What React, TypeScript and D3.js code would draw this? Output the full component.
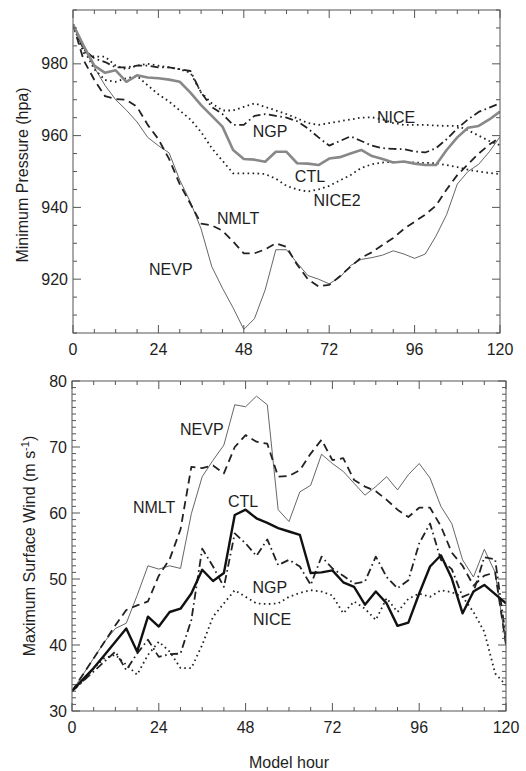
import React from "react";
import * as d3 from "d3";

// model hours (3-hourly output)
const hours = [0, 3, 6, 9, 12, 15, 18, 21, 24, 27, 30, 33, 36, 39, 42, 45, 48, 51, 54, 57, 60,
  63, 66, 69, 72, 75, 78, 81, 84, 87, 90, 93, 96, 99, 102, 105, 108, 111, 114, 117, 120];

// minimum pressure (hPa)
const presCTL = [991, 985, 979.5, 977.5, 978.2, 975, 976.8, 976.2, 976, 975.6, 975, 972, 968.5, 965.5, 962.5, 956, 953.5, 953.3, 952.7, 955.5, 955.5,
  952.3, 952.2, 951.8, 953.6, 954, 955, 956, 954.3, 953.5, 952.5, 952.8, 952.2, 951.8, 951.8, 956, 959.5, 962.2, 962.7, 964.5, 966.7];
const presNICE = [991, 983, 982, 982, 979.5, 978.5, 979.5, 980, 979.5, 979, 978.5, 977.5, 972, 969, 967, 967, 968, 969, 968, 967, 966,
  964.8, 963.5, 963, 963.5, 964, 964.5, 965, 965.1, 964.5, 963.5, 963, 963, 963, 962.8, 962.7, 962.7, 961.5, 960, 958.5, 957.3];
const presNICE2 = [991, 984, 978.5, 975.5, 975, 976, 976.6, 974, 971.5, 969.5, 967, 964.5, 961, 956.5, 953, 949.5, 949.5, 949.5, 949.3, 948, 946,
  945, 944.4, 945, 946, 947.5, 949, 951, 952, 952.5, 952.7, 952.7, 952.5, 952.4, 952.3, 951.8, 951.2, 950.5, 950, 949.6, 949.3];
const presNGP = [991, 984, 981.5, 980.5, 979, 979, 979.5, 979.5, 979, 979, 978.5, 978, 972, 968, 966, 963, 963, 965.5, 966, 965.5, 965,
  964, 962, 959.5, 957.2, 958.5, 959.8, 958.5, 957.2, 956.5, 956.3, 956.2, 955.6, 955.3, 956.5, 959, 962, 964.5, 966.6, 967.8, 969];
const presNMLT = [991, 981, 975.5, 971, 970.2, 970, 968, 963, 959, 953.5, 946.5, 941, 935.5, 935, 933.5, 930.5, 927.2, 927.2, 928.3, 930, 929,
  924, 920, 918, 918.4, 920.8, 923.5, 926, 927.5, 929.5, 931.5, 934, 936, 938, 940.5, 945, 949, 952, 955, 957.5, 959.5];
const presNEVP = [991, 984.5, 979, 974, 970, 967.1, 963.8, 959.5, 957.2, 955.2, 947.6, 941.5, 934, 923.5, 917.5, 912, 906, 909, 917, 928.2, 928.2,
  924.5, 921, 920, 918.7, 920.5, 923.8, 925.5, 926, 926.7, 927.9, 927, 925.8, 927, 932, 938, 946.5, 950, 952, 955.5, 959.7];

// maximum surface wind (m/s)
const windCTL = [33, 34.8, 36.5, 38.5, 40.5, 42.5, 39, 44.3, 42.8, 45, 45.5, 47.8, 51.4, 49.7, 50.9, 59.7, 60.5, 59.2, 58.5, 57.7, 57.2,
  56.7, 50.9, 51, 51.3, 49.5, 48.8, 46.1, 48.1, 46.3, 42.9, 43.4, 47.8, 51.9, 53.6, 50.1, 44.8, 48.1, 49.1, 47.7, 46.3];
const windNEVP = [33, 35.5, 38, 40.5, 42.5, 43.3, 47.5, 52, 51.5, 52, 51.6, 59.9, 65.5, 68, 70.3, 76.4, 76.1, 77.7, 76.4, 60.5, 58.7,
  63.2, 64.2, 68.9, 67.5, 66.3, 64.5, 62.7, 64, 65.5, 63.5, 65.8, 67.5, 65.3, 61, 58.4, 52.9, 50.3, 54.5, 51, 40];
const windNMLT = [33, 35.5, 38, 40.5, 43, 45.3, 46, 46.6, 50.5, 53, 57.5, 67, 66.8, 67.2, 66, 70, 71.8, 70.8, 70.5, 65.5, 65.6,
  66.5, 69, 71.1, 68, 68.3, 65, 64, 63.3, 62, 60.5, 59.4, 60.8, 60.8, 58, 54, 52, 49, 50.5, 51, 40];
const windNGP = [33, 34.5, 36, 37.5, 39, 36.2, 38.7, 40.8, 38.2, 38.6, 38.7, 43.8, 54.6, 51.9, 48.8, 56.9, 55.4, 53.5, 56, 52.1, 52.9,
  51.9, 49.1, 53.4, 51.6, 50.5, 49.3, 49.6, 53.4, 50.3, 48.6, 49.8, 55.4, 58.4, 52.9, 51.5, 47.3, 48, 53.3, 53, 41];
const windNICE = [33, 34.5, 36.5, 38, 38.5, 37, 35.5, 38.5, 40.5, 39, 36.5, 36.5, 40, 44.3, 46.3, 48.3, 47.3, 46.3, 46.2, 46.3, 47.3,
  47.9, 48.3, 48.1, 47.5, 44.8, 46.6, 45.5, 43.8, 47.1, 45, 47, 47.8, 47.3, 48.3, 48, 47.3, 45, 42, 35.7, 33.9];

const hourTicks = [0, 24, 48, 72, 96, 120];
const presTicks = [920, 940, 960, 980];
const windTicks = [30, 40, 50, 60, 70, 80];

// curve labels: [name, hour, value]
const presLabels: [string, number, number][] = [
  ["NICE", 90.8, 965.2], ["NGP", 55.4, 961.3], ["CTL", 66.6, 948.7],
  ["NICE2", 74.2, 942], ["NMLT", 46.4, 936.8], ["NEVP", 27.5, 922.6],
];
const windLabels: [string, number, number][] = [
  ["NEVP", 35.9, 72.7], ["NMLT", 22.7, 60.9], ["CTL", 47.3, 61.7],
  ["NGP", 54.7, 48.8], ["NICE", 55.3, 43.9],
];

const FONT = "'Liberation Sans', Arial, Helvetica, sans-serif";
const AXIS = "#555";
const TEXT = "#1e1e1e";

const DOT = "1.6 3.4";
const DASH = "8 5";
const DASHDOT = "8 3.5 1.6 3.5";

type Series = { v: number[]; color: string; w: number; dash?: string };

const Panel = (props: {
  x0: number; x1: number; yTop: number; yBot: number;
  domain: [number, number]; ticks: number[]; minorStep: number;
  series: Series[]; labels: [string, number, number][];
  xLabelY: number;
}) => {
  const { x0, x1, yTop, yBot, domain, ticks, minorStep, series, labels, xLabelY } = props;
  const x = d3.scaleLinear().domain([0, 120]).range([x0, x1]);
  const y = d3.scaleLinear().domain(domain).range([yBot, yTop]);
  const line = d3.line<number>().x((d, i) => x(hours[i])).y((d) => y(d));
  const minorX = d3.range(0, 121, 6);
  const minorY = d3.range(domain[0], domain[1] + 0.001, minorStep);
  return (
    <g>
      <clipPath id={"clip" + yTop}>
        <rect x={x0} y={yTop} width={x1 - x0} height={yBot - yTop} />
      </clipPath>
      <g clipPath={`url(#clip${yTop})`}>
        {series.map((s, i) => (
          <path key={i} d={line(s.v) || ""} fill="none" stroke={s.color} strokeWidth={s.w}
            strokeDasharray={s.dash} strokeLinejoin="round" />
        ))}
      </g>
      <rect x={x0} y={yTop} width={x1 - x0} height={yBot - yTop} fill="none" stroke={AXIS} strokeWidth={1} />
      {minorX.map((h) => {
        const len = h % 24 === 0 ? 8 : 4;
        return (
          <g key={"x" + h}>
            <line x1={x(h)} x2={x(h)} y1={yBot} y2={yBot - len} stroke={AXIS} />
            <line x1={x(h)} x2={x(h)} y1={yTop} y2={yTop + len} stroke={AXIS} />
          </g>
        );
      })}
      {minorY.map((v) => {
        const len = ticks.some((t) => Math.abs(t - v) < 1e-6) ? 8 : 4;
        return (
          <g key={"y" + v}>
            <line x1={x0} x2={x0 + len} y1={y(v)} y2={y(v)} stroke={AXIS} />
            <line x1={x1} x2={x1 - len} y1={y(v)} y2={y(v)} stroke={AXIS} />
          </g>
        );
      })}
      {hourTicks.map((h) => (
        <text key={"xl" + h} x={x(h)} y={xLabelY} textAnchor="middle" fontSize={16} fill={TEXT}>{h}</text>
      ))}
      {ticks.map((t) => (
        <text key={"yl" + t} x={x0 - 5} y={y(t)} dy="0.35em" textAnchor="end" fontSize={16} fill={TEXT}>{t}</text>
      ))}
      {labels.map(([name, h, v]) => (
        <text key={name} x={x(h)} y={y(v)} dy="0.35em" textAnchor="middle" fontSize={16} fill={TEXT}>{name}</text>
      ))}
    </g>
  );
};

export default function App() {
  return (
    <svg width={526} height={771} style={{ position: "absolute", left: 0, top: 0, background: "#fff" }}
      fontFamily={FONT}>
      <Panel x0={73} x1={500} yTop={10} yBot={333} domain={[905, 995]} ticks={presTicks} minorStep={5}
        xLabelY={355}
        series={[
          { v: presNEVP, color: "#555", w: 0.9 },
          { v: presNICE, color: "#222", w: 1.8, dash: DOT },
          { v: presNICE2, color: "#222", w: 1.8, dash: DOT },
          { v: presNGP, color: "#222", w: 1.8, dash: DASHDOT },
          { v: presNMLT, color: "#222", w: 1.8, dash: DASH },
          { v: presCTL, color: "#888", w: 2.6 },
        ]}
        labels={presLabels} />
      <Panel x0={72} x1={506} yTop={381} yBot={711} domain={[30, 80]} ticks={windTicks} minorStep={1}
        xLabelY={733}
        series={[
          { v: windNEVP, color: "#555", w: 0.9 },
          { v: windNICE, color: "#222", w: 1.8, dash: DOT },
          { v: windNGP, color: "#222", w: 1.8, dash: DASHDOT },
          { v: windNMLT, color: "#222", w: 1.8, dash: DASH },
          { v: windCTL, color: "#111", w: 2.4 },
        ]}
        labels={windLabels} />
      <text transform="translate(28,175) rotate(-90)" textAnchor="middle" fontSize={16} fill={TEXT}>
        Minimum Pressure (hpa)
      </text>
      <text transform="translate(35,546) rotate(-90)" textAnchor="middle" fontSize={16} fill={TEXT}>
        Maximum Surface Wind (m s<tspan dy={-6} fontSize={11}>-1</tspan><tspan dy={6}>)</tspan>
      </text>
      <text x={289} y={768} textAnchor="middle" fontSize={16} fill={TEXT}>Model hour</text>
    </svg>
  );
}
